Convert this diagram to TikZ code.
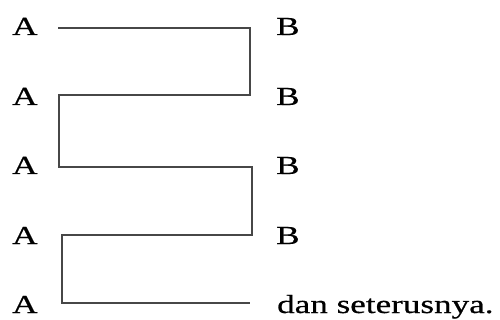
\documentclass[tikz,border=0pt]{standalone}
\usepackage{fontspec}
\setmainfont{Liberation Serif}[FakeStretch=1.35,FakeBold=0.6]
\begin{document}
\begin{tikzpicture}[x=1pt,y=-1pt,
  lbl/.style={anchor=base west,inner sep=0pt,font=\fontsize{26}{30}\selectfont,text=black},
  wire/.style={draw=black!72,line width=1.5pt,line join=miter}]
\useasboundingbox (0,0) rectangle (500,320);
\node[lbl] (A1) at (12,35) {A};
\node[lbl] (A2) at (12,105) {A};
\node[lbl] (A3) at (12,174) {A};
\node[lbl] (A4) at (12,244) {A};
\node[lbl] (A5) at (12,313) {A};
\node[lbl] (B1) at (276,35) {B};
\node[lbl] (B2) at (276,105) {B};
\node[lbl] (B3) at (276,174) {B};
\node[lbl] (B4) at (276,244) {B};
\node[lbl] (D) at (277,313) {dan seterusnya.};
\coordinate (p1) at (58,28);
\coordinate (p2) at (250,28);
\coordinate (p3) at (250,95);
\coordinate (p4) at (59,95);
\coordinate (p5) at (59,167);
\coordinate (p6) at (252,167);
\coordinate (p7) at (252,235);
\coordinate (p8) at (62,235);
\coordinate (p9) at (62,303);
\coordinate (p10) at (250,303);
\draw[wire] (p1) -- (p2) -- (p3) -- (p4) -- (p5) -- (p6) -- (p7) -- (p8) -- (p9) -- (p10);
\end{tikzpicture}
\end{document}
